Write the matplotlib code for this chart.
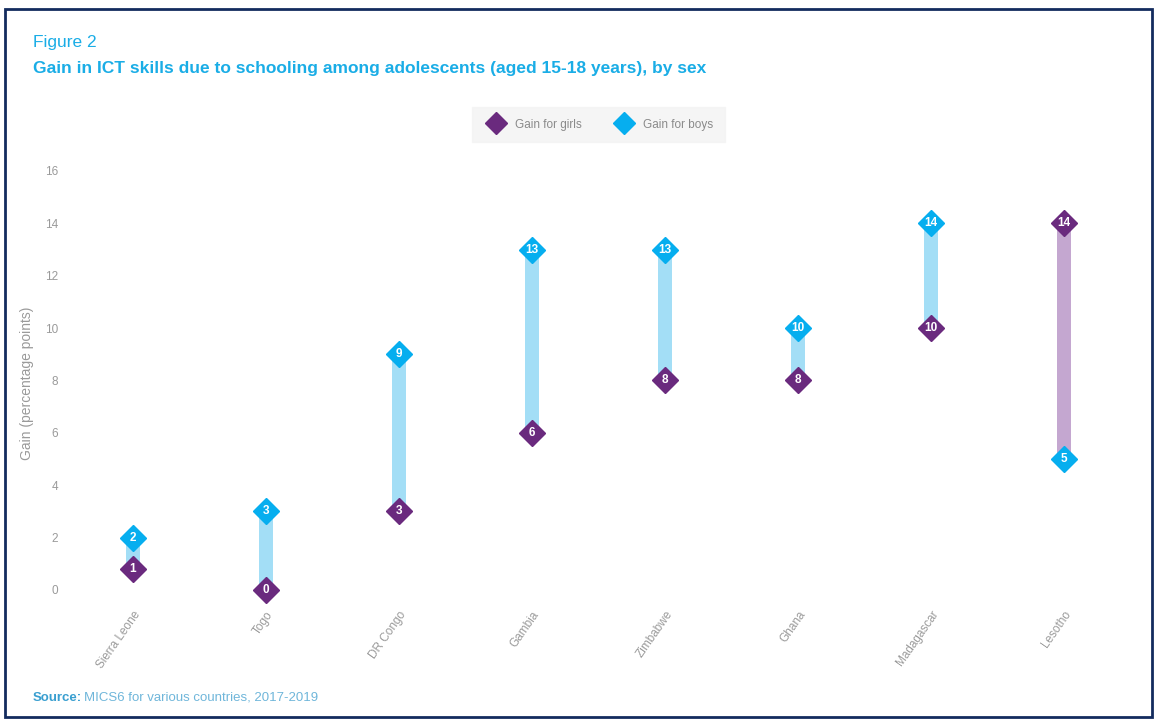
import numpy as np
import matplotlib.pyplot as plt
from matplotlib.patches import Rectangle

plt.rcParams['font.family'] = ['Liberation Sans', 'DejaVu Sans']

# 数据
countries = ["Sierra Leone", "Togo", "DR Congo", "Gambia", "Zimbabwe", "Ghana", "Madagascar", "Lesotho"]
girls = [0.8, 0, 3, 6, 8, 8, 10, 14]
boys = [2, 3, 9, 13, 13, 10, 14, 5]
yticks = [0, 2, 4, 6, 8, 10, 12, 14, 16]

purple = '#6A2A7E'
cyan = '#06AEEF'
light_cyan = '#A3DEF6'
light_purple = '#C4A7D0'
grey = '#9A9A9A'

fig = plt.figure(figsize=(11.57, 7.22), dpi=100)
ax = fig.add_axes([0.0575, 0.1647, 0.9196, 0.6094])

x = np.arange(len(countries))
g = np.array(girls, dtype=float)
b = np.array(boys, dtype=float)
low = np.minimum(g, b)
high = np.maximum(g, b)
bar_colors = [light_cyan if bb >= gg else light_purple for gg, bb in zip(g, b)]
ax.bar(x, high - low, bottom=low, width=0.1, color=bar_colors, zorder=1)

ax.plot(x, g, 'D', color=purple, markersize=13.5, linestyle='none', zorder=3, label='Gain for girls')
ax.plot(x, b, 'D', color=cyan, markersize=13.5, linestyle='none', zorder=3, label='Gain for boys')

for xi, v in zip(x, g):
    ax.text(xi, v, f"{int(round(v))}", ha='center', va='center', color='white',
            fontsize=8.5, fontweight='bold', zorder=4)
for xi, v in zip(x, b):
    ax.text(xi, v, f"{int(round(v))}", ha='center', va='center', color='white',
            fontsize=8.5, fontweight='bold', zorder=4)

ax.set_xlim(-0.5, len(countries) - 0.5)
ax.set_ylim(-0.5, 16.3)
ax.set_yticks(yticks)
ax.set_yticklabels([str(t) for t in yticks], color=grey, fontsize=8.5)
ax.set_xticks(x)
ax.set_xticklabels(countries, rotation=55, ha='right', rotation_mode='anchor',
                   color=grey, fontsize=8.5)
ax.tick_params(axis='y', length=0, pad=6)
ax.tick_params(axis='x', length=0, pad=4)
for s in ax.spines.values():
    s.set_visible(False)
ax.set_ylabel('Gain (percentage points)', color=grey, fontsize=10)
ax.yaxis.set_label_coords(-0.031, 0.5)

leg = ax.legend(loc='upper center', bbox_to_anchor=(0.5, 1.128), ncol=2, frameon=True,
                fontsize=8.5, handletextpad=0.6, columnspacing=2.6, borderpad=1.0,
                markerscale=0.8, borderaxespad=0, handlelength=2.0, fancybox=False)
leg.get_frame().set_facecolor('#F3F3F3')
leg.get_frame().set_edgecolor('#F3F3F3')
for t in leg.get_texts():
    t.set_color('#8A8A8A')

# 标题
fig.text(33 / 1157, 1 - 42 / 722, 'Figure 2', color='#1AADE6', fontsize=12.5, va='center')
fig.text(33 / 1157, 1 - 69 / 722,
         'Gain in ICT skills due to schooling among adolescents (aged 15-18 years), by sex',
         color='#1AADE6', fontsize=12.5, fontweight='bold', va='center')

# 来源
fig.text(33 / 1157, 1 - 701 / 722, 'Source:', color='#3A9FD0', fontsize=9.5,
         fontweight='bold', va='baseline')
fig.text(84 / 1157, 1 - 701 / 722, 'MICS6 for various countries, 2017-2019', color='#6FB6DA',
         fontsize=9.5, va='baseline')

# 外框
fig.patches.append(Rectangle((5 / 1157, 5 / 722), 1 - 10 / 1157, 1 - 14 / 722,
                             transform=fig.transFigure, fill=False,
                             edgecolor='#132B5E', linewidth=2))

fig.savefig('out.png', dpi=100)
